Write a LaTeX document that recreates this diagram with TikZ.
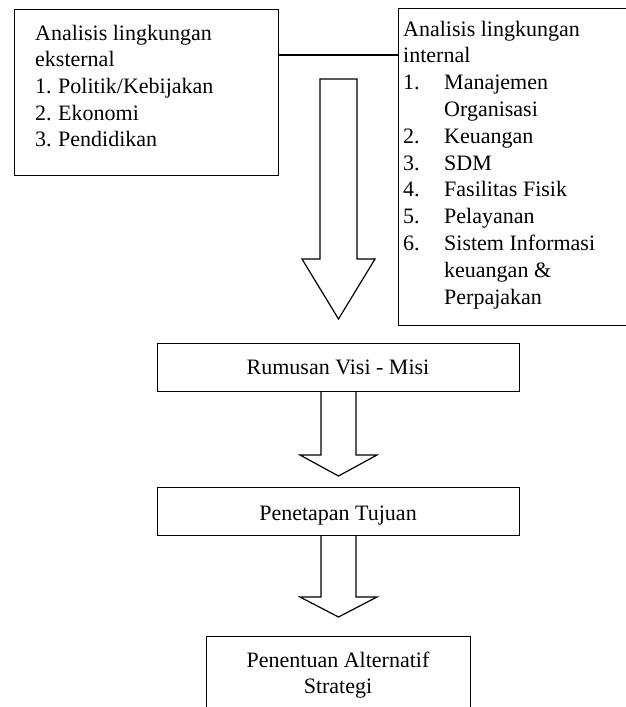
\documentclass[tikz,border=0pt]{standalone}
\usepackage{fontspec}
\setmainfont{Liberation Serif}
\begin{document}
\begin{tikzpicture}[x=1pt,y=-1pt,
  box/.style={draw,line width=1.2pt,inner sep=0pt,anchor=north west},
  txt/.style={inner sep=0pt,anchor=base west,font=\fontsize{22}{26.8}\selectfont},
  ctxt/.style={inner sep=0pt,anchor=base,font=\fontsize{22}{26.8}\selectfont},
  blockarrow/.style={draw,line width=1.2pt,line join=miter,fill=white},
  conn/.style={draw,line width=1.2pt}]
\useasboundingbox (0,0) rectangle (626,707);
\clip (0,0) rectangle (626,707);
% boxes
\node[box,minimum width=264pt,minimum height=166pt] (ext) at (14,9) {};
\node[box,minimum width=240pt,minimum height=317pt] (int) at (398,8) {};
\node[box,minimum width=362pt,minimum height=48pt] (vm) at (157,343) {};
\node[box,minimum width=362pt,minimum height=48pt] (tj) at (157,487) {};
\node[box,minimum width=264pt,minimum height=90pt] (alt) at (206,636) {};
% connector between the two analysis boxes
\coordinate (c1) at (ext.east |- 0,55);
\coordinate (c2) at (int.west |- 0,55);
\draw[conn] (c1) -- (c2);
% external text
\node[txt] (e1) at (35,40) {Analisis lingkungan};
\node[txt] (e2) at (35,66.7) {eksternal};
\node[txt] (e3) at (35,93.3) {1.};
\node[txt] (e3b) at (58,93.3) {Politik/Kebijakan};
\node[txt] (e4) at (35,120) {2.};
\node[txt] (e4b) at (58,120) {Ekonomi};
\node[txt] (e5) at (35,146.7) {3.};
\node[txt] (e5b) at (58,146.7) {Pendidikan};
% internal text
\node[txt] (i1) at (403,36) {Analisis lingkungan};
\node[txt] (i2) at (403,62.8) {internal};
\node[txt] (i3) at (403,89.6) {1.};
\node[txt] (i3b) at (444,89.6) {Manajemen};
\node[txt] (i3c) at (444,116.4) {Organisasi};
\node[txt] (i4) at (403,143.2) {2.};
\node[txt] (i4b) at (444,143.2) {Keuangan};
\node[txt] (i5) at (403,170) {3.};
\node[txt] (i5b) at (444,170) {SDM};
\node[txt] (i6) at (403,196.8) {4.};
\node[txt] (i6b) at (444,196.8) {Fasilitas Fisik};
\node[txt] (i7) at (403,223.6) {5.};
\node[txt] (i7b) at (444,223.6) {Pelayanan};
\node[txt] (i8) at (403,250.4) {6.};
\node[txt] (i8b) at (444,250.4) {Sistem Informasi};
\node[txt] (i8c) at (444,277.2) {keuangan \&};
\node[txt] (i8d) at (444,304) {Perpajakan};
% centre texts
\node[ctxt] (vmt) at (338,374) {Rumusan Visi - Misi};
\node[ctxt] (tjt) at (338,520) {Penetapan Tujuan};
\node[ctxt] (alt1) at (338,667) {Penentuan Alternatif};
\node[ctxt] (alt2) at (338,693) {Strategi};
% block arrows
\draw[blockarrow] (320,79) -- (320,259) -- (302,259) -- (338.5,319) -- (375,259) -- (357,259) -- (357,79) -- cycle;
\draw[blockarrow] (vm.south -| 321,0) -- (321,455) -- (300,455) -- (338.5,476) -- (377,455) -- (356,455) -- (vm.south -| 356,0);
\draw[blockarrow] (tj.south -| 321,0) -- (321,597) -- (300,597) -- (338.5,617) -- (377,597) -- (356,597) -- (tj.south -| 356,0);
\end{tikzpicture}
\end{document}
